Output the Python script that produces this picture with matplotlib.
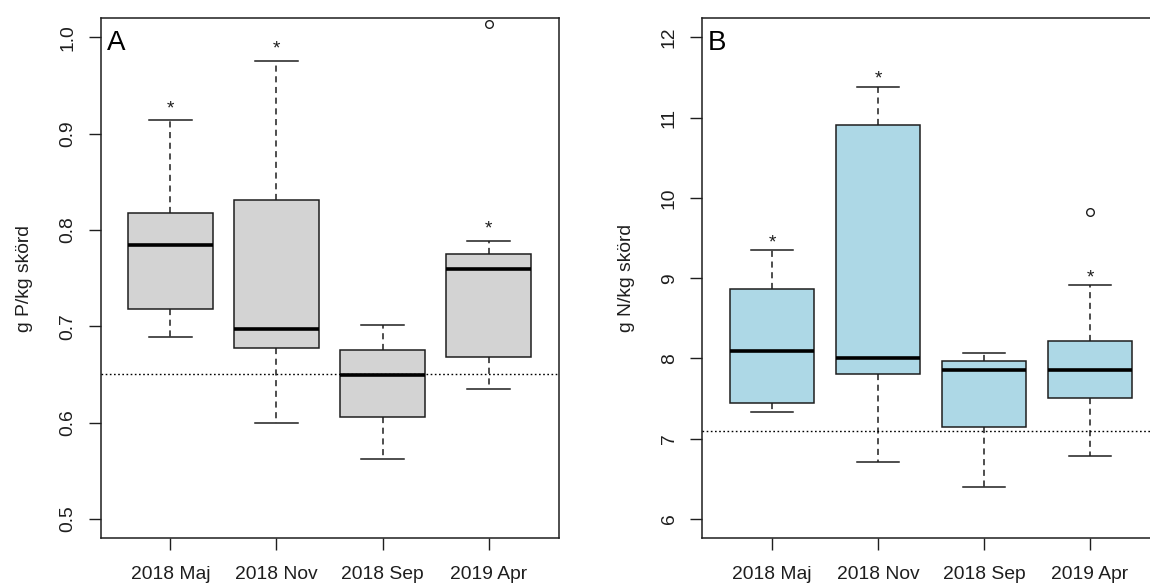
import matplotlib
matplotlib.use("Agg")
import matplotlib.pyplot as plt
import numpy as np

plt.rcParams['font.family'] = ['Liberation Sans', 'DejaVu Sans']

# sampling dates
months = ['2018 Maj', '2018 Nov', '2018 Sep', '2019 Apr']

# phosphorus, g P/kg skörd
p_whislo = [0.689, 0.600, 0.562, 0.635]
p_q1 = [0.718, 0.677, 0.606, 0.668]
p_med = [0.784, 0.697, 0.649, 0.760]
p_q3 = [0.818, 0.831, 0.675, 0.775]
p_whishi = [0.914, 0.976, 0.701, 0.789]
p_fliers = [[], [], [], [1.014]]
p_star = [0.933, 0.995, None, 0.808]
p_ref = 0.65
p_ticks = [0.5, 0.6, 0.7, 0.8, 0.9, 1.0]

# nitrogen, g N/kg skörd
n_whislo = [7.33, 6.71, 6.40, 6.79]
n_q1 = [7.45, 7.80, 7.14, 7.51]
n_med = [8.09, 8.01, 7.86, 7.86]
n_q3 = [8.86, 10.91, 7.97, 8.22]
n_whishi = [9.35, 11.38, 8.07, 8.91]
n_fliers = [[], [], [], [9.82]]
n_star = [9.52, 11.56, None, 9.08]
n_ref = 7.10
n_ticks = [6, 7, 8, 9, 10, 11, 12]

FS = 13.9
INK = '#1e1e1e'


def draw_panel(ax, whislo, q1, med, q3, whishi, fliers, star, ref, ticks,
               fill, ylabel, letter):
    stats = []
    for i in range(len(months)):
        stats.append(dict(label=months[i], whislo=whislo[i], q1=q1[i], med=med[i],
                          q3=q3[i], whishi=whishi[i], fliers=fliers[i]))
    pos = np.arange(1, len(months) + 1)
    ax.bxp(stats, positions=pos, widths=0.8, capwidths=0.4, patch_artist=True,
           boxprops=dict(facecolor=fill, edgecolor=INK, linewidth=1.1),
           whiskerprops=dict(color=INK, linewidth=1.1, linestyle=(0, (4, 3))),
           capprops=dict(color=INK, linewidth=1.1),
           medianprops=dict(color='black', linewidth=2.6, solid_capstyle='butt'),
           flierprops=dict(marker='o', markerfacecolor='none', markeredgecolor=INK,
                           markersize=5.5, markeredgewidth=1.0))

    # significance marks above the whiskers
    for x, s in zip(pos, star):
        if s is not None:
            ax.annotate('*', (x, s), xytext=(0, -0.57 * FS), textcoords='offset points',
                        ha='center', va='baseline', fontsize=FS, color=INK)

    ax.axhline(ref, color='black', linewidth=1.0, linestyle=(0, (1.2, 1.8)), zorder=5)

    lo, hi = ticks[0], ticks[-1]
    pad = (hi - lo) * 0.04
    ax.set_ylim(lo - pad, hi + pad)
    ax.set_xlim(0.34, 4.66)
    ax.set_yticks(ticks)
    ax.set_yticklabels([('%g' % t) if t >= 2 else '%.1f' % t for t in ticks],
                       rotation=90, va='center')
    ax.set_xticks(pos)
    ax.set_xticklabels(months)
    ax.tick_params(axis='both', direction='out', length=8.7, width=1.0,
                   color=INK, labelcolor=INK, labelsize=FS)
    ax.tick_params(axis='y', pad=8.8)
    ax.tick_params(axis='x', pad=11.0)
    for sp in ax.spines.values():
        sp.set_color(INK)
        sp.set_linewidth(1.1)

    ax.set_ylabel(ylabel, fontsize=FS, color=INK)
    ax.yaxis.set_label_coords(-0.147, 0.5)
    ax.text(0.013, 0.939, letter, transform=ax.transAxes, ha='left', va='baseline',
            fontsize=20, color='black')


fig = plt.figure(figsize=(11.5, 5.85), dpi=100)
fig.patch.set_facecolor('white')
ax_p = fig.add_axes([100.5 / 1150, 46.8 / 585, 458 / 1150, 520 / 585])
ax_n = fig.add_axes([702 / 1150, 46.8 / 585, 458 / 1150, 520 / 585])

draw_panel(ax_p, p_whislo, p_q1, p_med, p_q3, p_whishi, p_fliers, p_star, p_ref,
           p_ticks, '#D3D3D3', 'g P/kg skörd', 'A')
draw_panel(ax_n, n_whislo, n_q1, n_med, n_q3, n_whishi, n_fliers, n_star, n_ref,
           n_ticks, '#ADD8E6', 'g N/kg skörd', 'B')

fig.savefig('out.png', dpi=100, facecolor='white')
